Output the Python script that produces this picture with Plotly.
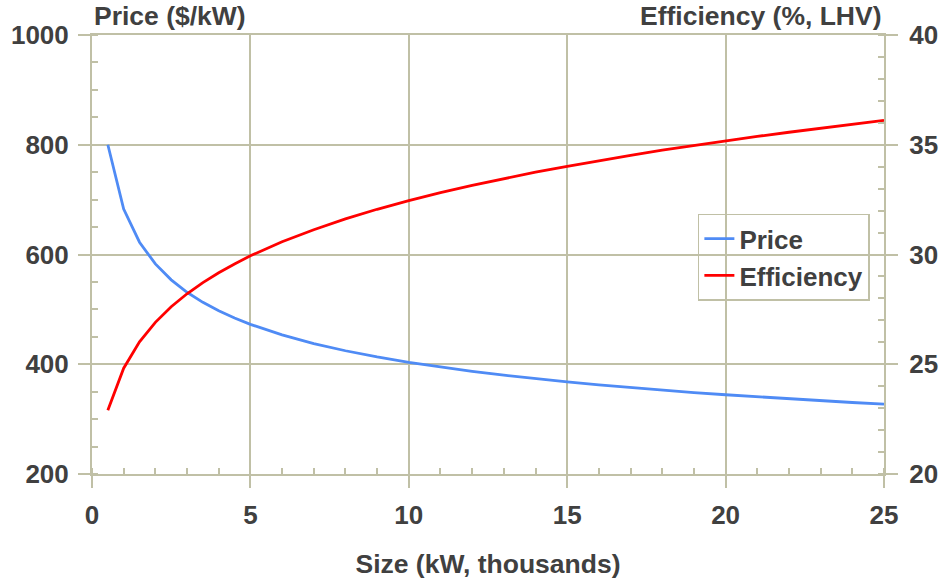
import plotly.graph_objects as go

size_kw = [0.5, 1, 1.5, 2, 2.5, 3, 3.5, 4, 4.5, 5, 6, 7, 8, 9, 10, 11, 12, 13, 14, 15,
           16, 17, 18, 19, 20, 21, 22, 23, 24, 25]
price = [800, 682.8, 622.4, 582.8, 553.8, 531.2, 512.8, 497.4, 484.2, 472.7, 453.4,
         437.7, 424.6, 413.3, 403.5, 394.8, 387.0, 380.0, 373.6, 367.8, 362.4, 357.4,
         352.8, 348.4, 344.4, 340.6, 337.0, 333.6, 330.3, 327.3]
efficiency = [22.9, 24.82, 26.02, 26.91, 27.62, 28.21, 28.72, 29.17, 29.57, 29.94,
              30.58, 31.13, 31.62, 32.06, 32.45, 32.82, 33.15, 33.46, 33.75, 34.02,
              34.28, 34.52, 34.75, 34.97, 35.18, 35.38, 35.57, 35.76, 35.94, 36.11]

GRID = "#C0C0A6"
TXT = "#404040"
FONT = "Liberation Sans, Arial, sans-serif"

fig = go.Figure()
fig.add_trace(go.Scatter(x=size_kw, y=price, mode="lines", name="Price",
                         line=dict(color="#4F8BF5", width=2.8), yaxis="y"))
fig.add_trace(go.Scatter(x=size_kw, y=efficiency, mode="lines", name="Efficiency",
                         line=dict(color="#FF0000", width=2.8), yaxis="y2"))

tickfont = dict(family=FONT, size=26, color=TXT, weight="bold")

fig.update_layout(
    width=943, height=579,
    margin=dict(l=92, r=59, t=35, b=105, autoexpand=False),
    paper_bgcolor="white", plot_bgcolor="white",
    font=dict(family=FONT, color=TXT),
    showlegend=True,
    legend=dict(x=0.765, y=0.593, xanchor="left", yanchor="top",
                bgcolor="rgba(0,0,0,0)", bordercolor=GRID, borderwidth=1.5,
                font=dict(family=FONT, size=26, color=TXT, weight="bold"),
                tracegroupgap=0, itemwidth=30),
    xaxis=dict(range=[0, 25], dtick=5, tick0=0, showgrid=True, gridcolor=GRID, gridwidth=1.5,
               showline=True, linecolor=GRID, linewidth=2, mirror=True,
               ticks="outside", ticklen=12, tickcolor=GRID, tickwidth=1.5,
               ticklabelstandoff=5, automargin=False,
               minor=dict(dtick=1, ticks="inside", ticklen=6, tickcolor=GRID, showgrid=False),
               tickfont=tickfont, zeroline=False,
               title=dict(text="Size (kW, thousands)", standoff=25,
                          font=dict(family=FONT, size=26.5, color=TXT, weight="bold"))),
    yaxis=dict(range=[200, 1000], dtick=200, showgrid=True, gridcolor=GRID, gridwidth=1.5,
               showline=True, linecolor=GRID, linewidth=2, automargin=False,
               ticks="outside", ticklen=12, tickcolor=GRID, tickwidth=1.5,
               ticklabelstandoff=4,
               minor=dict(dtick=50, ticks="inside", ticklen=6, tickcolor=GRID, showgrid=False),
               tickfont=tickfont, zeroline=False),
    yaxis2=dict(range=[20, 40], dtick=5, overlaying="y", side="right", showgrid=False,
                showline=True, linecolor=GRID, linewidth=2, automargin=False,
                ticks="outside", ticklen=12, tickcolor=GRID, tickwidth=1.5,
                ticklabelstandoff=6,
                minor=dict(dtick=1, ticks="inside", ticklen=6, tickcolor=GRID, showgrid=False),
                tickfont=tickfont, zeroline=False),
    annotations=[
        dict(text="Price ($/kW)", xref="paper", yref="paper", x=0, y=1,
             xanchor="left", yanchor="bottom", yshift=2, showarrow=False,
             font=dict(family=FONT, size=26.5, color=TXT, weight="bold")),
        dict(text="Efficiency (%, LHV)", xref="paper", yref="paper", x=1, y=1,
             xanchor="right", yanchor="bottom", yshift=2, showarrow=False,
             font=dict(family=FONT, size=26.5, color=TXT, weight="bold")),
    ],
)

fig.write_html("out.html", config={"displayModeBar": False},
               post_script="document.body.style.margin='0';document.body.style.overflow='hidden';")
